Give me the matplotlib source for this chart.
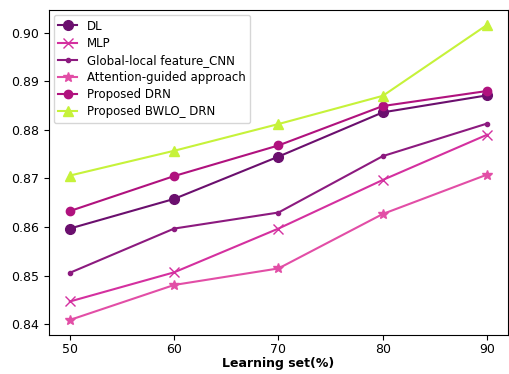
import matplotlib
matplotlib.use("Agg")
import matplotlib.pyplot as plt

x = [50, 60, 70, 80, 90]
dl = [0.8597, 0.8658, 0.8745, 0.8836, 0.8871]
mlp = [0.8447, 0.8507, 0.8597, 0.8697, 0.8790]
glcnn = [0.8506, 0.8597, 0.8630, 0.8746, 0.8813]
attn = [0.8409, 0.8481, 0.8515, 0.8627, 0.8708]
drn = [0.8633, 0.8705, 0.8768, 0.8849, 0.8880]
bwlo = [0.8706, 0.8757, 0.8812, 0.8870, 0.9016]

fig = plt.figure(figsize=(5.1, 3.74), dpi=100)
ax = fig.add_axes([0.096, 0.105, 0.9, 0.868])

ax.plot(x, dl, marker='o', color='#6b0f6e', markersize=7, label='DL')
ax.plot(x, mlp, marker='x', color='#d4309f', markersize=7, label='MLP')
ax.plot(x, glcnn, marker='.', color='#8c1a7f', markersize=6, label='Global-local feature_CNN')
ax.plot(x, attn, marker='*', color='#e24ea6', markersize=7, label='Attention-guided approach')
ax.plot(x, drn, marker='o', color='#b0127e', markersize=6, label='Proposed DRN')
ax.plot(x, bwlo, marker='^', color='#c6f23a', markersize=7, label='Proposed BWLO_ DRN')

ax.set_xticks([50, 60, 70, 80, 90])
ax.set_yticks([0.84, 0.85, 0.86, 0.87, 0.88, 0.89, 0.90])
ax.set_yticklabels(['0.84', '0.85', '0.86', '0.87', '0.88', '0.89', '0.90'])
ax.tick_params(labelsize=9)
ax.tick_params(axis='x', pad=2.5)
ax.set_xlabel('Learning set(%)', fontweight='bold', fontsize=9, labelpad=1)
ax.legend(loc='upper left', fontsize=8.5, handlelength=1.6, labelspacing=0.35,
          borderaxespad=0.4)

fig.savefig('out.png', dpi=100)
